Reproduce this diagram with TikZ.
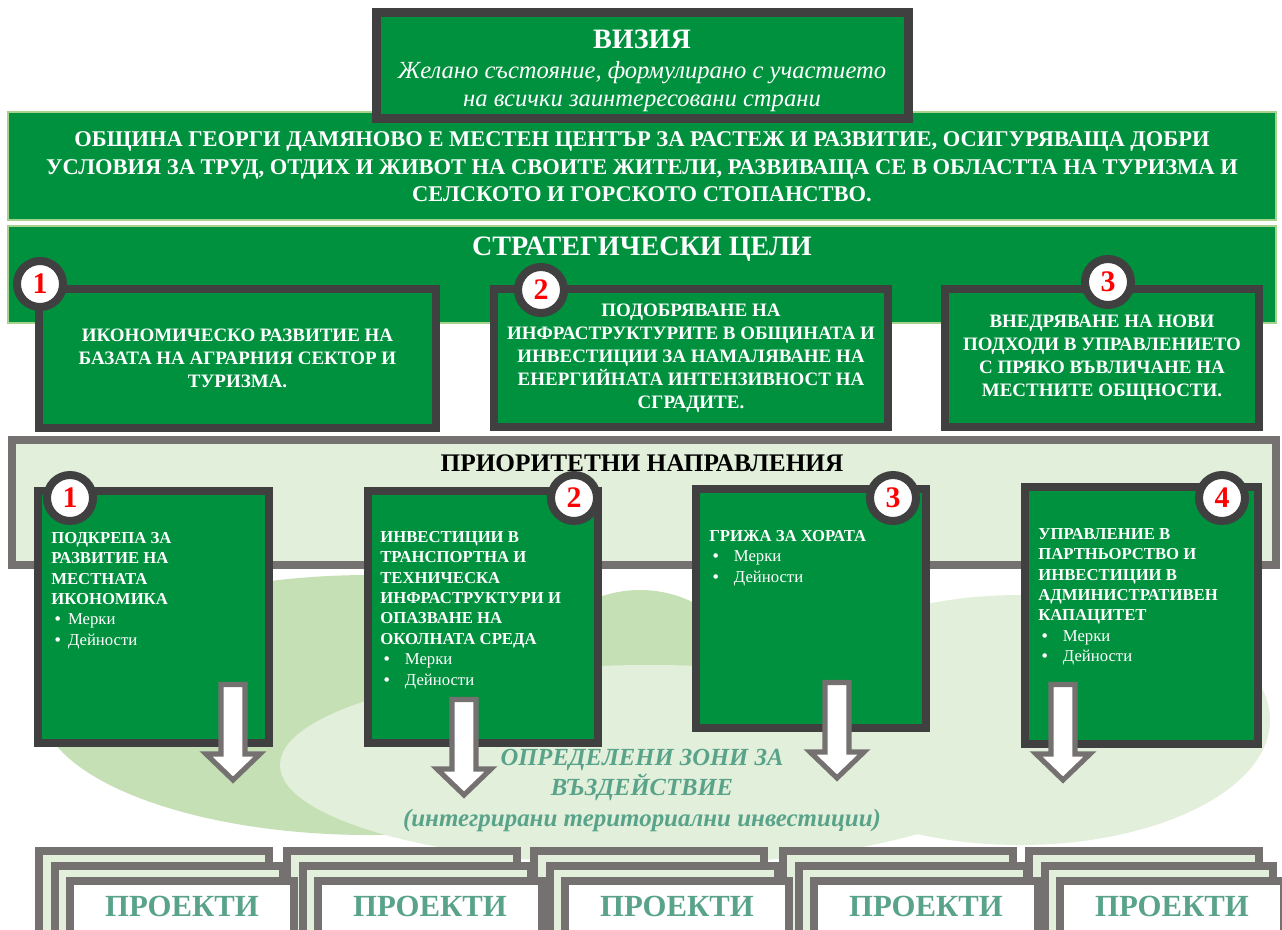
\documentclass[tikz,border=0pt]{standalone}
\usepackage{fontspec}
\setmainfont{Liberation Serif}
\usetikzlibrary{fit}
\definecolor{planogreen}{RGB}{0,145,62}
\definecolor{framedark}{RGB}{64,64,64}
\definecolor{framegray}{RGB}{118,113,113}
\definecolor{palegreen}{RGB}{226,239,218}
\definecolor{hillgreen}{RGB}{197,224,180}
\definecolor{edgegreen}{RGB}{169,209,142}
\definecolor{zonetext}{RGB}{88,163,138}
\newcommand{\fsz}[2]{\fontsize{#1}{#2}\selectfont}
\newcommand{\mitem}[2]{\hspace*{2pt}\makebox[#1][l]{\textbullet}\textnormal{#2}}

\begin{document}
\begin{tikzpicture}[x=0.02cm, y=-0.02cm,
  band/.style={fill=planogreen, draw=edgegreen, line width=0.8pt, inner sep=0pt},
  greenbox/.style={fill=planogreen, draw=framedark, line width=4.55pt, inner sep=0pt},
  panel/.style={fill=palegreen, draw=framegray, line width=4.55pt, inner sep=0pt},
  numring/.style={circle, fill=white, draw=framedark, line width=4.55pt, minimum size=0.92cm, inner sep=0pt, text=red, font=\bfseries\fsz{17}{17}},
  headtext/.style={text=white, font=\bfseries\fsz{16}{18}},
  goaltext/.style={text=white, align=center, font=\bfseries\fsz{10.8}{13.1}},
  prtext/.style={text=white, align=left, anchor=north west, inner sep=0pt, font=\bfseries\fsz{9.5}{11.6}},
  blockarrow/.style={fill=white, draw=framegray, line width=2.9pt, line join=miter},
  layer/.style={draw=framegray, line width=4.55pt},
  zonetxt/.style={text=zonetext, align=center, font=\bfseries\itshape\fsz{14}{17}},
  projtext/.style={text=zonetext, font=\bfseries\fsz{17.5}{18}}]
  \useasboundingbox (0,0) rectangle (1282,930);
  \fill[white] (0,0) rectangle (1282,930);
  \clip (0,0) rectangle (1282,930);

  % fon - zoni
  \fill[hillgreen] (370,705) ellipse [x radius=330, y radius=130];
  \fill[hillgreen] (640,690) ellipse [x radius=110, y radius=100];
  \fill[palegreen] (650,765) ellipse [x radius=370, y radius=100];
  \fill[palegreen] (1020,720) ellipse [x radius=250, y radius=125];

  % Vizia
  \node[band, fit={(8,112) (1276,220)}] (mission) {};
  \node[text=white, align=center, font=\bfseries\fsz{12.8}{15.6}] (missiontxt) at (642,167)
    {ОБЩИНА ГЕОРГИ ДАМЯНОВО Е МЕСТЕН ЦЕНТЪР ЗА РАСТЕЖ И РАЗВИТИЕ, ОСИГУРЯВАЩА ДОБРИ\\
     УСЛОВИЯ ЗА ТРУД, ОТДИХ И ЖИВОТ НА СВОИТЕ ЖИТЕЛИ, РАЗВИВАЩА СЕ В ОБЛАСТТА НА ТУРИЗМА И\\
     СЕЛСКОТО И ГОРСКОТО СТОПАНСТВО.};
  \node[greenbox, line width=5.1pt, fit={(376.5,12.5) (908.5,118.5)}] (vision) {};
  \node[headtext] (visiontitle) at (642,39) {ВИЗИЯ};
  \node[text=white, align=center, font=\itshape\fsz{14}{15.9}] (visionsub) at (642,87)
    {Желано състояние, формулирано с участието\\на всички заинтересовани страни};

  % Strategicheski celi
  \node[band, fit={(8,226) (1276,323)}] (goals) {};
  \node[headtext] (goalstitle) at (642,249) {СТРАТЕГИЧЕСКИ ЦЕЛИ};
  \node[greenbox, fit={(39,289) (436,428)}] (goal1) {};
  \node[greenbox, fit={(494,289) (888,427)}] (goal2) {};
  \node[greenbox, fit={(945,289) (1259,427)}] (goal3) {};
  \node[goaltext] (goal1txt) at (goal1.center) {ИКОНОМИЧЕСКО РАЗВИТИЕ НА\\БАЗАТА НА АГРАРНИЯ СЕКТОР И\\ТУРИЗМА.};
  \node[goaltext] (goal2txt) at (goal2.center) {ПОДОБРЯВАНЕ НА\\ИНФРАСТРУКТУРИТЕ В ОБЩИНАТА И\\ИНВЕСТИЦИИ ЗА НАМАЛЯВАНЕ НА\\ЕНЕРГИЙНАТА ИНТЕНЗИВНОСТ НА\\СГРАДИТЕ.};
  \node[goaltext] (goal3txt) at (goal3.center) {ВНЕДРЯВАНЕ НА НОВИ\\ПОДХОДИ В УПРАВЛЕНИЕТО\\С ПРЯКО ВЪВЛИЧАНЕ НА\\МЕСТНИТЕ ОБЩНОСТИ.};
  \node[numring] (gnum1) at (40,284) {1};
  \node[numring] (gnum2) at (541,290) {2};
  \node[numring] (gnum3) at (1108,282) {3};

  % Prioritetni napravlenia
  \node[panel, fit={(12,440) (1276,565)}] (priorities) {};
  \node[font=\bfseries\fsz{14.4}{16}] (prtitle) at (642,463) {ПРИОРИТЕТНИ НАПРАВЛЕНИЯ};
  \node[greenbox, fit={(38,491) (269,743)}] (pr1) {};
  \node[greenbox, fit={(368,491) (598,743)}] (pr2) {};
  \node[greenbox, fit={(696,489) (926,728)}] (pr3) {};
  \node[greenbox, fit={(1025,487) (1258,744)}] (pr4) {};
  \node[prtext] (pr1txt) at ([shift={(17,45)}]pr1.north west)
    {ПОДКРЕПА ЗА\\РАЗВИТИЕ НА\\МЕСТНАТА\\ИКОНОМИКА\\\mitem{7.5pt}{Мерки}\\\mitem{7.5pt}{Дейности}};
  \node[prtext] (pr2txt) at ([shift={(16,44)}]pr2.north west)
    {ИНВЕСТИЦИИ В\\ТРАНСПОРТНА И\\ТЕХНИЧЕСКА\\ИНФРАСТРУКТУРИ И\\ОПАЗВАНЕ НА\\ОКОЛНАТА СРЕДА\\\mitem{12pt}{Мерки}\\\mitem{12pt}{Дейности}};
  \node[prtext] (pr3txt) at ([shift={(17,45)}]pr3.north west)
    {ГРИЖА ЗА ХОРАТА\\\mitem{12pt}{Мерки}\\\mitem{12pt}{Дейности}};
  \node[prtext] (pr4txt) at ([shift={(17,45)}]pr4.north west)
    {УПРАВЛЕНИЕ В\\ПАРТНЬОРСТВО И\\ИНВЕСТИЦИИ В\\АДМИНИСТРАТИВЕН\\КАПАЦИТЕТ\\\mitem{12pt}{Мерки}\\\mitem{12pt}{Дейности}};
  \node[numring] (pnum1) at (70,498) {1};
  \node[numring] (pnum2) at (574,498) {2};
  \node[numring] (pnum3) at (893,498) {3};
  \node[numring] (pnum4) at (1222,498) {4};

  % strelki nadolu
  \foreach \cx/\ay in {233/682, 464/697, 837/680, 1063/682}
    \draw[blockarrow] (\cx-12,\ay+2.5) -- (\cx+12,\ay+2.5) -- (\cx+12,\ay+72) -- (\cx+27,\ay+72)
      -- (\cx,\ay+98) -- (\cx-27,\ay+72) -- (\cx-12,\ay+72) -- cycle;

  % Zoni za vazdeistvie
  \node[zonetxt] (zone) at (642,775) {ОПРЕДЕЛЕНИ ЗОНИ ЗА\\ВЪЗДЕЙСТВИЕ};
  \node[zonetxt, font=\bfseries\itshape\fsz{14.2}{16}] (zonesub) at (642,820) {(интегрирани териториални инвестиции)};

  % Proekti
  \foreach \sx in {35,283,530,779,1025}
    \draw[layer, fill=palegreen] (\sx+4,851) rectangle (\sx+234,960);
  \foreach \sx in {35,283,530,779,1025}
    \draw[layer, fill=palegreen] (\sx+20,866) rectangle (\sx+248,960);
  \foreach \sx [count=\i] in {35,283,530,779,1025} {
    \draw[layer, fill=white] (\sx+35,881) rectangle (\sx+259,960);
    \node[projtext] (proj\i) at (\sx+147,906) {ПРОЕКТИ};
  }
\end{tikzpicture}
\end{document}
